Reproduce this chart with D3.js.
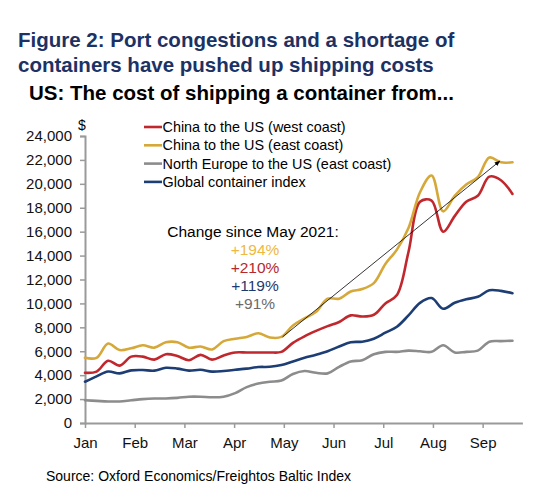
<!DOCTYPE html>
<html>
<head>
<meta charset="utf-8">
<script src="https://cdn.jsdelivr.net/npm/d3@7"></script>
<style>
  html, body { margin: 0; padding: 0; background: #fff; }
  svg { display: block; font-family: Arial, "Liberation Sans", Helvetica, sans-serif; }
</style>
</head>
<body>
<svg id="chart" width="548" height="499"></svg>
<script>
// ---- Data (weekly observations, Jan to mid-Sep 2021, US$ per container) ----
const monthLabels = ["Jan", "Feb", "Mar", "Apr", "May", "Jun", "Jul", "Aug", "Sep"];
const yTicks = [0, 2000, 4000, 6000, 8000, 10000, 12000, 14000, 16000, 18000, 20000, 22000, 24000];

const chinaWest = [4200, 4300, 5200, 4800, 5550, 5550, 5300, 5750, 5600, 5250,
  5700, 5300, 5650, 5900, 5900, 5900, 5900, 5950, 6700, 7250,
  7700, 8100, 8450, 9000, 8900, 9050, 10000, 10700, 14300, 18500,
  18600, 16000, 17300, 18500, 19000, 20600, 20300, 19150];
const chinaEast = [5450, 5450, 6650, 6100, 6250, 6500, 6300, 6750, 6750, 6300,
  6400, 6150, 6850, 7050, 7200, 7500, 7150, 7200, 8150, 8750,
  9300, 10400, 10400, 11000, 11200, 11700, 13300, 14500, 16300, 19300,
  20700, 17700, 19000, 19950, 20550, 22200, 21800, 21800];
const northEurope = [1900, 1850, 1800, 1800, 1900, 2000, 2050, 2050, 2100, 2200,
  2200, 2150, 2200, 2500, 3000, 3300, 3450, 3550, 4100, 4350,
  4200, 4150, 4700, 5150, 5250, 5750, 5950, 5950, 6050, 6000,
  5950, 6500, 5900, 5950, 6050, 6800, 6850, 6880];
const globalIndex = [3450, 3900, 4300, 4150, 4400, 4430, 4380, 4620, 4550, 4380,
  4450, 4300, 4350, 4450, 4550, 4680, 4700, 4850, 5150, 5450,
  5700, 6000, 6400, 6750, 6800, 7050, 7550, 8050, 9000, 10050,
  10450, 9550, 10050, 10350, 10550, 11100, 11050, 10850];

const seriesNames = ["China to the US (west coast)", "China to the US (east coast)",
  "North Europe to the US (east coast)", "Global container index"];
const changeLabels = ["+194%", "+210%", "+119%", "+91%"];
// trend arrow: from (week, value) to (week, value)
const arrowFrom = [17.1, 7200];
const arrowTo = [35.9, 21900];

// ---- Layout ----
const monthsPerWeek = 8.6 / 37;
const svg = d3.select("#chart");
const x = d3.scaleLinear().domain([0, 8.8]).range([85, 522.4]);
const y = d3.scaleLinear().domain([0, 24000]).range([423, 136]);
const wx = i => x(i * monthsPerWeek);

const colors = {
  west: "#C0282D", east: "#D6A83A", europe: "#8C8C8C", global: "#1D3E74"
};
const axisColor = "#9a9a9a";

// Titles
svg.append("text").attr("x", 18).attr("y", 47)
  .attr("font-size", 20.5).attr("font-weight", "bold").attr("fill", "#1C3264")
  .text("Figure 2: Port congestions and a shortage of");
svg.append("text").attr("x", 18).attr("y", 72)
  .attr("font-size", 20.5).attr("font-weight", "bold").attr("fill", "#1C3264")
  .text("containers have pushed up shipping costs");
svg.append("text").attr("x", 29).attr("y", 100)
  .attr("font-size", 20.5).attr("font-weight", "bold").attr("fill", "#000")
  .text("US: The cost of shipping a container from...");

// Y axis
const yAxis = d3.axisLeft(y).tickValues(yTicks).tickSize(5).tickPadding(8)
  .tickFormat(d3.format(","));
const gy = svg.append("g").attr("transform", "translate(85,0)").call(yAxis);
gy.select(".domain").attr("stroke", axisColor).attr("stroke-width", 2);
gy.selectAll(".tick line").attr("stroke", axisColor).attr("stroke-width", 1.5);
gy.selectAll(".tick text").attr("font-size", 15).attr("fill", "#111")
  .attr("font-family", "Arial, 'Liberation Sans', sans-serif");

// X axis
const xAxis = d3.axisBottom(x).tickValues(d3.range(monthLabels.length))
  .tickSize(5).tickPadding(9).tickFormat(i => monthLabels[i]).tickSizeOuter(0);
const gx = svg.append("g").attr("transform", "translate(0,423)").call(xAxis);
gx.select(".domain").attr("stroke", axisColor).attr("stroke-width", 2);
gx.selectAll(".tick line").attr("stroke", axisColor).attr("stroke-width", 1.5);
gx.selectAll(".tick text").attr("font-size", 15).attr("fill", "#111")
  .attr("font-family", "Arial, 'Liberation Sans', sans-serif");

// "$" label
svg.append("text").attr("x", 82).attr("y", 130).attr("text-anchor", "middle")
  .attr("font-size", 14).text("$");

// Lines
const line = d3.line().x((d, i) => wx(i)).y(d => y(d)).curve(d3.curveCatmullRom.alpha(0.5));
const drawOrder = [
  [northEurope, colors.europe],
  [globalIndex, colors.global],
  [chinaWest, colors.west],
  [chinaEast, colors.east]
];
drawOrder.forEach(([data, c]) => {
  svg.append("path").datum(data).attr("d", line)
    .attr("fill", "none").attr("stroke", c).attr("stroke-width", 2.6)
    .attr("stroke-linejoin", "round").attr("stroke-linecap", "round");
});

// Trend arrow
svg.append("defs").append("marker").attr("id", "arr")
  .attr("viewBox", "0 0 10 10").attr("refX", 9).attr("refY", 5)
  .attr("markerWidth", 7).attr("markerHeight", 7).attr("orient", "auto")
  .append("path").attr("d", "M0,1 L10,5 L0,9 Z").attr("fill", "#000");
svg.append("line")
  .attr("x1", wx(arrowFrom[0])).attr("y1", y(arrowFrom[1]))
  .attr("x2", wx(arrowTo[0])).attr("y2", y(arrowTo[1]))
  .attr("stroke", "#000").attr("stroke-width", 0.8).attr("marker-end", "url(#arr)");

// Legend
const legendColors = [colors.west, colors.east, colors.europe, colors.global];
const lg = svg.append("g");
seriesNames.forEach((name, i) => {
  const yy = 127 + i * 18.3;
  lg.append("line").attr("x1", 144).attr("x2", 162).attr("y1", yy).attr("y2", yy)
    .attr("stroke", legendColors[i]).attr("stroke-width", 2.6);
  lg.append("text").attr("x", 162.5).attr("y", yy + 5).attr("font-size", 14.4)
    .attr("fill", "#000").text(name);
});

// Change annotation
svg.append("text").attr("x", 253).attr("y", 237).attr("text-anchor", "middle")
  .attr("font-size", 15.5).attr("fill", "#000").text("Change since May 2021:");
const changeColors = ["#EFB83F", "#B5282D", "#1D3A70", "#6b6b6b"];
changeLabels.forEach((t, i) => {
  svg.append("text").attr("x", 255).attr("y", 255 + i * 18.1).attr("text-anchor", "middle")
    .attr("font-size", 15.5).attr("fill", changeColors[i]).text(t);
});

// Source
svg.append("text").attr("x", 46).attr("y", 481).attr("font-size", 14).attr("fill", "#000")
  .text("Source: Oxford Economics/Freightos Baltic Index");
</script>
</body>
</html>
